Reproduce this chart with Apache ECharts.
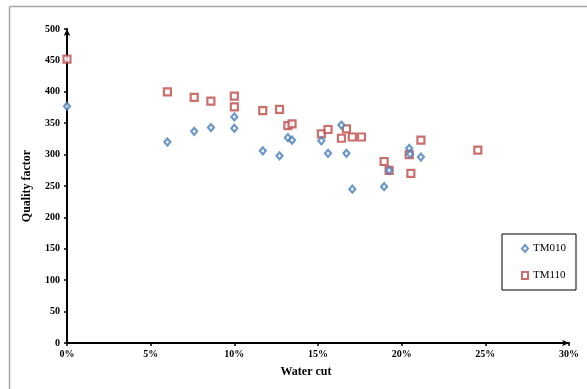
<!DOCTYPE html>
<html>
<head>
<meta charset="utf-8">
<script src="https://cdn.jsdelivr.net/npm/echarts@6/dist/echarts.min.js"></script>
<style>
html,body{margin:0;padding:0;background:#fff;}
#chart{width:587px;height:389px;}
</style>
</head>
<body>
<div id="chart"></div>
<script>
// Water cut (%) and quality factor values
var tm010X = [0, 6.0, 7.6, 8.6, 10.0, 10.0, 11.7, 12.7, 13.2, 13.45, 15.2, 15.6, 16.4, 16.7, 17.05, 18.95, 19.25, 20.45, 20.5, 21.15];
var tm010Y = [377, 320, 337, 343, 360, 342, 306, 298, 327, 323, 322, 302, 347, 302, 245, 249, 275, 310, 301, 296];
var tm110X = [0, 6.0, 7.6, 8.6, 10.0, 10.0, 11.7, 12.7, 13.2, 13.45, 15.2, 15.6, 16.4, 16.7, 17.05, 17.6, 18.95, 19.25, 20.45, 20.55, 21.15, 24.55];
var tm110Y = [452, 400, 391, 385, 393, 376, 370, 372, 346, 349, 333, 340, 326, 341, 328, 328, 289, 275, 300, 270, 323, 307];
var seriesNames = ['TM010', 'TM110'];
var xTicks = [0, 5, 10, 15, 20, 25, 30];
var yTicks = [0, 50, 100, 150, 200, 250, 300, 350, 400, 450, 500];

function pairs(xs, ys) { return xs.map(function (x, i) { return [x, ys[i]]; }); }

var FONT = '"Liberation Serif", "Times New Roman", serif';
var chart = echarts.init(document.getElementById('chart'), null, {renderer: 'canvas'});
chart.setOption({
  animation: false,
  backgroundColor: '#ffffff',
  textStyle: {fontFamily: FONT},
  grid: {left: 67, right: 18, top: 29, bottom: 46, containLabel: false},
  xAxis: {
    type: 'value', min: xTicks[0], max: xTicks[xTicks.length - 1], interval: 5,
    name: 'Water cut', nameLocation: 'middle', nameGap: 23,
    nameTextStyle: {fontFamily: FONT, fontWeight: 'bold', fontSize: 12, color: '#000', padding: [0, 24, 0, 0]},
    axisLine: {show: true, onZero: false, symbol: ['none', 'arrow'], symbolSize: [5, 7], lineStyle: {color: '#000', width: 2}},
    axisTick: {show: true, length: 3, lineStyle: {color: '#000', width: 1.5}},
    axisLabel: {fontFamily: FONT, fontWeight: 'bold', fontSize: 10, color: '#000', margin: 6, formatter: '{value}%'},
    splitLine: {show: false}
  },
  yAxis: {
    type: 'value', min: yTicks[0], max: yTicks[yTicks.length - 1], interval: 50,
    name: 'Quality factor', nameLocation: 'middle', nameGap: 34, nameRotate: 90,
    nameTextStyle: {fontFamily: FONT, fontWeight: 'bold', fontSize: 12, color: '#000'},
    axisLine: {show: true, onZero: false, symbol: ['none', 'arrow'], symbolSize: [5, 7], lineStyle: {color: '#000', width: 2}},
    axisTick: {show: true, length: 3, lineStyle: {color: '#000', width: 1.5}},
    axisLabel: {fontFamily: FONT, fontWeight: 'bold', fontSize: 10, color: '#000', margin: 7},
    splitLine: {show: false}
  },
  legend: {
    orient: 'vertical', left: 502, top: 234,
    padding: [8, 10, 8, 19], itemGap: 14,
    itemWidth: 6, itemHeight: 7,
    borderColor: '#000', borderWidth: 1,
    textStyle: {fontFamily: FONT, fontSize: 11, color: '#000', lineHeight: 13},
    data: [
      {name: seriesNames[0], icon: 'diamond'},
      {name: seriesNames[1], icon: 'rect'}
    ]
  },
  graphic: [
    {type: 'line', shape: {x1: 9.5, y1: 6.5, x2: 587, y2: 6.5}, style: {stroke: '#a6a6a6', lineWidth: 1.5}, silent: true},
    {type: 'line', shape: {x1: 9.5, y1: 6.5, x2: 9.5, y2: 389}, style: {stroke: '#a6a6a6', lineWidth: 1.5}, silent: true}
  ],
  series: [
    {
      name: seriesNames[0], type: 'scatter', z: 3,
      symbol: 'diamond', symbolSize: [6, 7],
      itemStyle: {color: '#ffffff', borderColor: '#4A7EBB', borderWidth: 2.2},
      data: pairs(tm010X, tm010Y)
    },
    {
      name: seriesNames[1], type: 'scatter', z: 2,
      symbol: 'rect', symbolSize: 7,
      itemStyle: {color: '#ffffff', borderColor: '#BE4B48', borderWidth: 2.2},
      data: pairs(tm110X, tm110Y)
    }
  ]
});
</script>
</body>
</html>
